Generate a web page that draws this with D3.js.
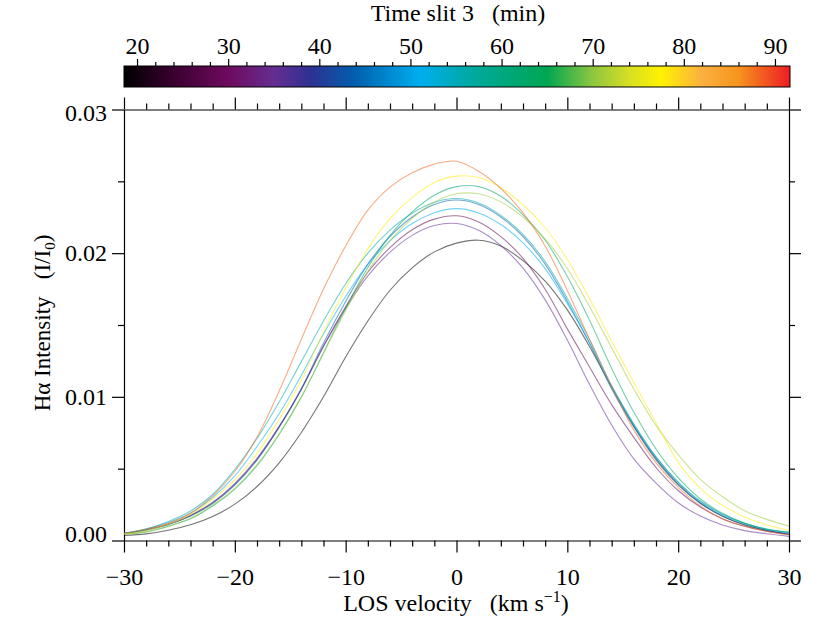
<!DOCTYPE html>
<html><head><meta charset="utf-8">
<script src="https://cdn.jsdelivr.net/npm/d3@7"></script>
<style>
body{margin:0;background:#fff}
text{font-family:"Liberation Serif","Times New Roman",serif;}
</style>
</head><body>
<svg id="c" width="830" height="623"></svg>
<script>
// ---- data ----
const velocity = [-30,-28,-26,-24,-22,-20,-18,-16,-14,-12,-10,-8,-6,-4,-2,0,2,4,6,8,10,12,14,16,18,20,22,24,26,28,30];
const times = [19, 29, 35, 44, 51, 56, 63, 71, 78, 88];
const I19 = [0.00035,0.00046,0.00071,0.00109,0.00167,0.00253,0.00376,0.00541,0.00752,0.0100,0.01277,0.01528,0.01742,0.01898,0.02009,0.0207,0.0209,0.0205,0.01948,0.01806,0.01605,0.0135,0.01068,0.00798,0.0057,0.00393,0.00261,0.00169,0.00109,0.0007,0.00044];
const I29 = [0.00048,0.00074,0.00113,0.00173,0.00262,0.00391,0.00565,0.00789,0.01051,0.01354,0.01627,0.01867,0.02039,0.02163,0.02237,0.0226,0.02217,0.02115,0.01964,0.01749,0.01473,0.01207,0.00946,0.00718,0.00508,0.00348,0.00233,0.00152,0.00099,0.00065,0.00042];
const I35 = [0.00049,0.00075,0.00115,0.00176,0.00267,0.00398,0.00572,0.00796,0.01057,0.0135,0.01616,0.01842,0.02007,0.02124,0.02192,0.02207,0.02159,0.02053,0.01896,0.01675,0.01395,0.01087,0.00804,0.00568,0.004,0.00263,0.0017,0.00108,0.00069,0.00047,0.00029];
const I44 = [0.000465,0.00072,0.0011,0.0017,0.00258,0.00386,0.0056,0.0079,0.01055,0.01375,0.01664,0.01924,0.02116,0.02252,0.02339,0.0237,0.02339,0.02252,0.02116,0.01924,0.01664,0.01375,0.01055,0.0079,0.0056,0.00386,0.00258,0.0017,0.0011,0.00072,0.000465];
const I51 = [0.0005,0.0008,0.00125,0.00191,0.00299,0.0045,0.00654,0.00882,0.0115,0.01437,0.01698,0.01922,0.02086,0.02206,0.02282,0.0231,0.0228,0.02199,0.02072,0.01892,0.01649,0.01374,0.0107,0.00806,0.00582,0.00407,0.00275,0.00183,0.0012,0.0008,0.00052];
const I56 = [0.0005,0.0008,0.00132,0.00205,0.0032,0.00495,0.0071,0.00964,0.01245,0.01528,0.01787,0.0200,0.02161,0.02278,0.02354,0.0238,0.02349,0.02263,0.0213,0.01942,0.01685,0.014,0.01078,0.00812,0.00581,0.00405,0.00271,0.0018,0.00118,0.00077,0.00056];
const I63 = [0.00045,0.0006,0.00099,0.00151,0.0024,0.00358,0.00521,0.00738,0.00998,0.01307,0.01618,0.019,0.02124,0.02287,0.02403,0.02463,0.02463,0.02396,0.02267,0.0209,0.01838,0.01534,0.01198,0.00894,0.00637,0.00437,0.00289,0.00189,0.00121,0.00078,0.0006];
const I71 = [0.00045,0.0006,0.00097,0.00156,0.00247,0.00365,0.00528,0.00743,0.00998,0.01302,0.016,0.01873,0.02088,0.02243,0.02355,0.02413,0.02413,0.02357,0.02251,0.021,0.01893,0.01629,0.01341,0.01055,0.00801,0.00598,0.00426,0.00305,0.00207,0.00147,0.001];
const I78 = [0.00045,0.0007,0.00113,0.00181,0.00287,0.00422,0.00605,0.00843,0.01118,0.0145,0.01755,0.0203,0.0224,0.02388,0.02492,0.02536,0.02527,0.02456,0.02337,0.02177,0.01956,0.01684,0.01387,0.0110,0.0082,0.00544,0.00363,0.00245,0.00164,0.00108,0.00072];
const I88 = [0.0005,0.0008,0.0012,0.0019,0.0031,0.0048,0.0072,0.0104,0.0140,0.0175,0.0205,0.0230,0.0246,0.0256,0.0262,0.0264,0.0257,0.0245,0.0228,0.0205,0.0174,0.0140,0.0107,0.0077,0.0054,0.0037,0.0024,0.0015,0.0010,0.00063,0.0004];
const intensities = [I19, I29, I35, I44, I51, I56, I63, I71, I78, I88];

const cmapTimes  = [18.57, 24, 30, 35, 39, 44, 51, 57, 65, 70, 74, 77.5, 82, 86, 91.65];
const cmapColors = ["#000000","#3a0030","#6e0a5e","#662d91","#2e3192","#0060ae","#00aeef","#00a99d","#00a651","#8dc63f","#d7df23","#fff200","#fbb040","#f7941d","#ed1c24"];

const xMajor = [-30,-20,-10,0,10,20,30];
const xMinor = [-28,-26,-24,-22,-18,-16,-14,-12,-8,-6,-4,-2,2,4,6,8,12,14,16,18,22,24,26,28];
const yMajor = [0,0.01,0.02,0.03];
const yMinor = [0.005,0.015,0.025];
const cbMajor = [20,30,40,50,60,70,80,90];
const cbMinor = [22,24,26,28,32,34,36,38,42,44,46,48,52,54,56,58,62,64,66,68,72,74,76,78,82,84,86,88];

// ---- drawing ----
const svg = d3.select('#c');
const x = d3.scaleLinear().domain([-30,30]).range([124,789]);
const y = d3.scaleLinear().domain([0,0.03]).range([540.5,109.5]);
const cb = d3.scaleLinear().domain([cmapTimes[0], cmapTimes[cmapTimes.length-1]]).range([124,790]);
const cmap = d3.scaleLinear().domain(cmapTimes).range(cmapColors).interpolate(d3.interpolateRgb);

// colorbar gradient
const defs = svg.append('defs');
const grad = defs.append('linearGradient').attr('id','cbgrad').attr('x1','0%').attr('x2','100%').attr('y1','0%').attr('y2','0%');
cmapTimes.forEach((t,i)=>{
  grad.append('stop').attr('offset', ((cb(t)-124)/666*100)+'%').attr('stop-color', cmapColors[i]);
});
svg.append('rect').attr('x',cb.range()[0]).attr('y',66).attr('width',cb.range()[1]-cb.range()[0]).attr('height',21)
  .attr('fill','url(#cbgrad)').attr('stroke','#000').attr('stroke-width',1);

function styleAxis(g, fs){
  g.attr('font-family',null).attr('font-size',null);
  g.selectAll('path.domain').attr('stroke','#000').attr('stroke-width',1.2);
  g.selectAll('.tick line').attr('stroke','#000').attr('stroke-width',1.2);
  g.selectAll('.tick text').attr('fill','#000').style('font-size', fs+'px');
}
const fs = 24;
// colorbar axis
let g = svg.append('g').attr('transform','translate(0,66)')
  .call(d3.axisTop(cb).tickValues(cbMajor).tickSize(7).tickSizeOuter(0).tickPadding(5).tickFormat(d3.format('d')));
styleAxis(g, fs); g.select('path.domain').remove();
g = svg.append('g').attr('transform','translate(0,66)')
  .call(d3.axisTop(cb).tickValues(cbMinor).tickSize(4).tickFormat(''));
styleAxis(g, fs); g.select('path.domain').remove();

// bottom
g = svg.append('g').attr('transform',`translate(0,${y(0)})`)
  .call(d3.axisBottom(x).tickValues(xMajor).tickSize(12).tickSizeOuter(0).tickPadding(15).tickFormat(d3.format('d')));
styleAxis(g, fs);
g = svg.append('g').attr('transform',`translate(0,${y(0)})`)
  .call(d3.axisBottom(x).tickValues(xMinor).tickSize(6).tickFormat(''));
styleAxis(g, fs); g.select('path.domain').remove();
// top
g = svg.append('g').attr('transform',`translate(0,${y(0.03)})`)
  .call(d3.axisTop(x).tickValues(xMajor).tickSize(12).tickSizeOuter(0).tickFormat(''));
styleAxis(g, fs);
g = svg.append('g').attr('transform',`translate(0,${y(0.03)})`)
  .call(d3.axisTop(x).tickValues(xMinor).tickSize(6).tickFormat(''));
styleAxis(g, fs); g.select('path.domain').remove();
// left
g = svg.append('g').attr('transform',`translate(${x(-30)},0)`)
  .call(d3.axisLeft(y).tickValues(yMajor).tickSize(12).tickSizeOuter(0).tickPadding(5).tickFormat(d3.format('.2f')));
styleAxis(g, fs);
g.selectAll('.tick text').attr('dy', d => d === 0 ? '0.05em' : (d === 0.03 ? '0.45em' : '0.32em'));
g = svg.append('g').attr('transform',`translate(${x(-30)},0)`)
  .call(d3.axisLeft(y).tickValues(yMinor).tickSize(6).tickFormat(''));
styleAxis(g, fs); g.select('path.domain').remove();
// right
g = svg.append('g').attr('transform',`translate(${x(30)},0)`)
  .call(d3.axisRight(y).tickValues(yMajor).tickSize(12).tickSizeOuter(0).tickFormat(''));
styleAxis(g, fs);
g = svg.append('g').attr('transform',`translate(${x(30)},0)`)
  .call(d3.axisRight(y).tickValues(yMinor).tickSize(6).tickFormat(''));
styleAxis(g, fs); g.select('path.domain').remove();

// curves
const line = d3.line().x(d=>x(d[0])).y(d=>y(d[1])).curve(d3.curveCatmullRom.alpha(0.5));
times.forEach((t,i)=>{
  const pts = velocity.map((v,j)=>[v, intensities[i][j]]);
  svg.append('path').datum(pts).attr('d', line)
    .attr('fill','none').attr('stroke', cmap(t)).attr('stroke-opacity',0.55).attr('stroke-width',1.1);
});

// titles
svg.append('text').attr('x',458).attr('y',21).attr('text-anchor','middle').style('font-size','24px').style('white-space','pre')
  .text('Time slit 3   (min)');
const xt = svg.append('text').attr('x',456).attr('y',611).attr('text-anchor','middle').style('font-size','24px').style('white-space','pre');
xt.append('tspan').text('LOS velocity   (km s');
xt.append('tspan').attr('dy',-9).style('font-size','16px').text('\u22121');
xt.append('tspan').attr('dy',9).text(')');
const yt = svg.append('text').attr('transform','translate(50,323) rotate(-90)').attr('text-anchor','middle').style('font-size','23px').style('white-space','pre');
yt.append('tspan').text('H\u03b1 Intensity   (I/I');
yt.append('tspan').attr('dy',5).style('font-size','15px').text('0');
yt.append('tspan').attr('dy',-5).text(')');
</script>
</body></html>
